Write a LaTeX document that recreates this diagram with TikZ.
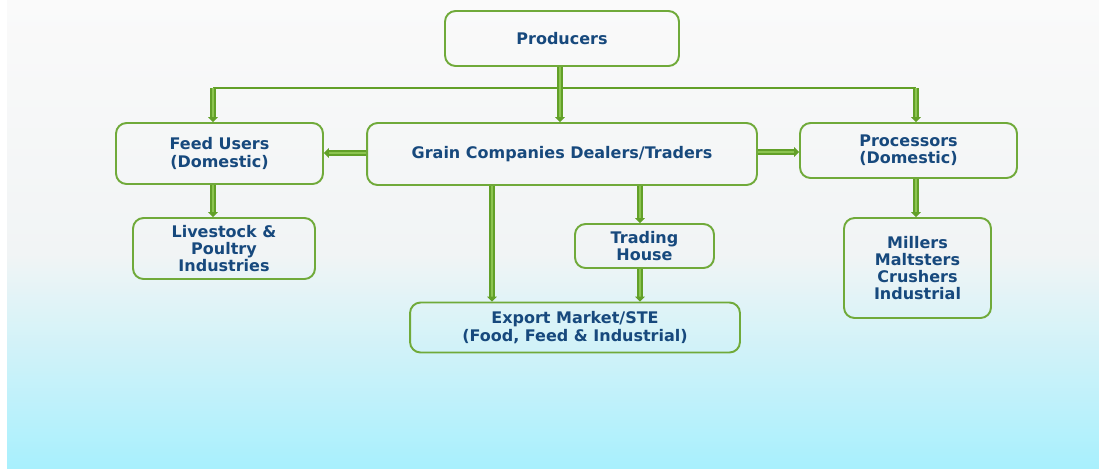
\documentclass[tikz,border=0pt]{standalone}
\usepackage{fontspec}
\setmainfont{DejaVu Sans}
\usepackage{tikz}
\usetikzlibrary{positioning, arrows.meta}
\definecolor{verde}{RGB}{112, 170, 58}
\definecolor{verdeosc}{RGB}{98, 160, 40}
\definecolor{verdeclaro}{RGB}{140, 196, 80}
\definecolor{azul}{RGB}{23, 73, 125}
\definecolor{fondoA}{RGB}{250, 250, 250}
\definecolor{fondoB}{RGB}{241, 244, 245}
\definecolor{fondoC}{RGB}{168, 240, 253}
\tikzset{
    box/.style={draw=verde, rounded corners=6pt, line width=1.1pt, text=azul, align=center, inner sep=0pt,
        font=\bfseries\fontsize{9.1}{9.8}\selectfont},
    conn/.style={draw=verdeosc, double=verdeclaro, double distance=1.4pt, line width=1pt,
        -{Triangle[width=5.5pt, length=2.8pt]}},
    bus/.style={verdeosc, line width=1.6pt},
}
\begin{document}
\begin{tikzpicture}[x=0.02cm, y=-0.02cm]
        \useasboundingbox (0,0) rectangle (1099,468);
        \fill[white] (0,0) rectangle (1099,468);
        \shade[top color=fondoA, bottom color=fondoB] (7,0) rectangle (1099,255);
        \shade[top color=fondoB, bottom color=fondoC] (7,254.5) rectangle (1099,468);

        \node [box, minimum width=4.68cm, minimum height=1.10cm] (prod) at (562,38.5) {Producers};
        \node [box, minimum width=4.14cm, minimum height=1.22cm] (feed) at (219.5,153.5) {Feed Users\\(Domestic)};
        \node [box, minimum width=7.80cm, minimum height=1.24cm] (grain) at (562,154) {Grain Companies Dealers/Traders};
        \node [box, minimum width=4.34cm, minimum height=1.10cm] (proc) at (908.5,150.5) {Processors\\(Domestic)};
        \node [box, minimum width=3.64cm, minimum height=1.22cm] (live) at (224,248.5) {Livestock \&\\Poultry\\Industries};
        \node [box, minimum width=2.78cm, minimum height=0.88cm] (trade) at (644.5,246) {Trading\\House};
        \node [box, minimum width=2.94cm, minimum height=2.00cm] (mill) at (917.5,268) {Millers\\Maltsters\\Crushers\\Industrial};
        \node [box, minimum width=6.60cm, minimum height=1.00cm] (exp) at (575,327.5) {Export Market/STE\\(Food, Feed \& Industrial)};

        \coordinate (busL) at (213,88);
        \coordinate (busR) at (916,88);

        \draw[bus] (busL) -- (busR);
        \draw[conn] (busL) -- (busL |- feed.north);
        \draw[conn] (busR) -- (busR |- proc.north);
        \draw[conn] (prod.south -| 560,0) -- (grain.north -| 560,0);

        \draw[conn] (grain.west |- 0,153) -- (feed.east |- 0,153);
        \draw[conn] (grain.east |- 0,152) -- (proc.west |- 0,152);

        \draw[conn] (feed.south -| busL) -- (live.north -| busL);
        \draw[conn] (grain.south -| 492,0) -- (exp.north -| 492,0);
        \draw[conn] (grain.south -| 640,0) -- (trade.north -| 640,0);
        \draw[conn] (trade.south -| 640,0) -- (exp.north -| 640,0);
        \draw[conn] (proc.south -| busR) -- (mill.north -| busR);
\end{tikzpicture}
\end{document}
